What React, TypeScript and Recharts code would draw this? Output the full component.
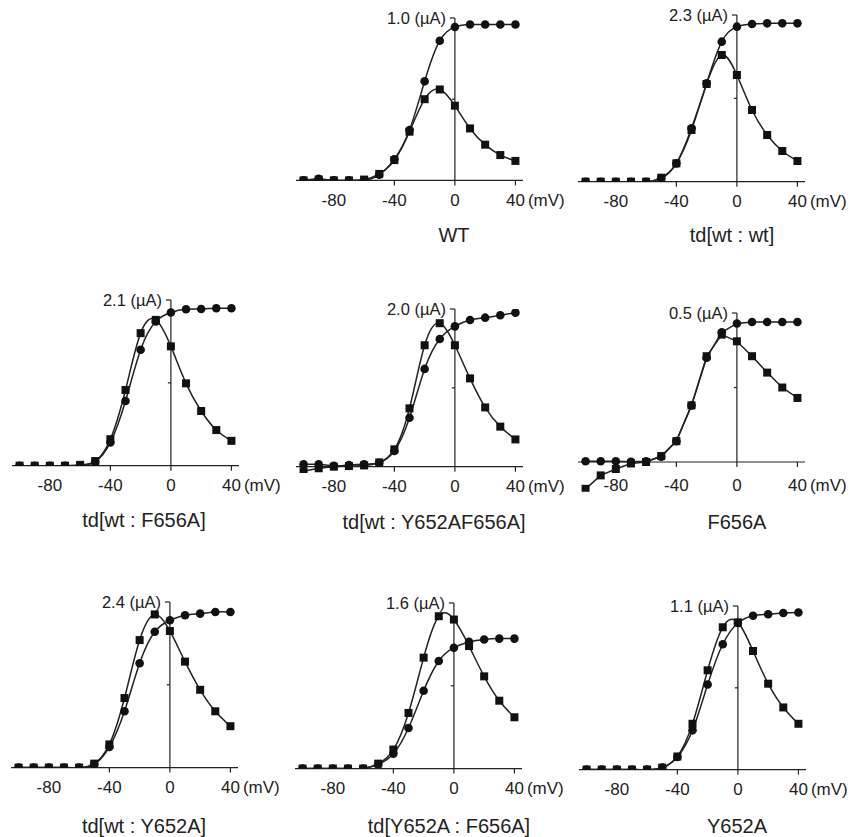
import React from "react";
import { ComposedChart, Line, ReferenceLine, XAxis, YAxis } from "recharts";

// membrane potential steps (mV)
const volts = [-100, -90, -80, -70, -60, -50, -40, -30, -20, -10, 0, 10, 20, 30, 40];
const xTicks = [-80, -40, 0, 40];

// relative values, 1.0 = top tick of each panel
const wtCircles = [0, 0.01, 0, 0, 0, 0.035, 0.13, 0.31, 0.61, 0.86, 0.945, 0.96, 0.96, 0.96, 0.96];
const wtSquares = [0, 0.005, 0, 0, 0.005, 0.04, 0.125, 0.3, 0.5, 0.56, 0.46, 0.32, 0.22, 0.156, 0.12];

const tdWtWtCircles = [0, 0, 0, 0, 0, 0.02, 0.11, 0.32, 0.59, 0.84, 0.93, 0.946, 0.95, 0.95, 0.95];
const tdWtWtSquares = [0, 0, 0, 0, 0, 0.024, 0.11, 0.31, 0.586, 0.76, 0.64, 0.43, 0.28, 0.184, 0.124];

const tdWtF656ACircles = [0, 0, 0, 0, 0, 0.024, 0.14, 0.39, 0.7, 0.87, 0.925, 0.944, 0.946, 0.95, 0.95];
const tdWtF656ASquares = [0, 0, 0, 0, 0.005, 0.028, 0.16, 0.457, 0.8, 0.88, 0.72, 0.497, 0.33, 0.215, 0.15];

const tdWtDoubleCircles = [0.015, 0.015, 0.006, 0.01, 0.015, 0.025, 0.1, 0.31, 0.62, 0.81, 0.89, 0.93, 0.945, 0.96, 0.977];
const tdWtDoubleSquares = [-0.03, -0.01, 0, 0.004, 0.008, 0.027, 0.11, 0.37, 0.77, 0.91, 0.77, 0.56, 0.376, 0.254, 0.173];

const f656aCircles = [0.005, 0.005, 0.005, 0.002, 0.005, 0.035, 0.14, 0.38, 0.7, 0.87, 0.93, 0.94, 0.94, 0.94, 0.94];
const f656aSquares = [-0.18, -0.09, -0.047, -0.01, 0, 0.04, 0.14, 0.38, 0.71, 0.855, 0.81, 0.71, 0.6, 0.5, 0.43];

const tdWtY652ACircles = [0, 0, 0, 0, 0, 0.02, 0.125, 0.34, 0.63, 0.82, 0.89, 0.92, 0.93, 0.94, 0.94];
const tdWtY652ASquares = [0, 0, 0, 0, 0, 0.024, 0.14, 0.42, 0.77, 0.925, 0.825, 0.64, 0.47, 0.34, 0.25];

const tdMutCircles = [0, 0, 0, 0, 0, 0.026, 0.09, 0.245, 0.47, 0.65, 0.73, 0.765, 0.78, 0.785, 0.785];
const tdMutSquares = [0, 0, 0, 0, 0, 0.03, 0.115, 0.336, 0.67, 0.92, 0.9, 0.74, 0.557, 0.41, 0.31];

const y652aCircles = [0, 0, 0, 0, 0, 0.012, 0.077, 0.24, 0.52, 0.766, 0.896, 0.94, 0.95, 0.957, 0.96];
const y652aSquares = [0, 0, 0, 0, 0, 0.012, 0.08, 0.28, 0.607, 0.87, 0.9, 0.725, 0.525, 0.38, 0.28];

const panels = [
  { title: "WT", top: "1.0 (\u00b5A)", circles: wtCircles, squares: wtSquares, curve: "natural" },
  { title: "td[wt : wt]", top: "2.3 (\u00b5A)", circles: tdWtWtCircles, squares: tdWtWtSquares, curve: "natural" },
  { title: "td[wt : F656A]", top: "2.1 (\u00b5A)", circles: tdWtF656ACircles, squares: tdWtF656ASquares, curve: "natural" },
  { title: "td[wt : Y652AF656A]", top: "2.0 (\u00b5A)", circles: tdWtDoubleCircles, squares: tdWtDoubleSquares, curve: "natural" },
  { title: "F656A", top: "0.5 (\u00b5A)", circles: f656aCircles, squares: f656aSquares, curve: "linear" },
  { title: "td[wt : Y652A]", top: "2.4 (\u00b5A)", circles: tdWtY652ACircles, squares: tdWtY652ASquares, curve: "natural" },
  { title: "td[Y652A : F656A]", top: "1.6 (\u00b5A)", circles: tdMutCircles, squares: tdMutSquares, curve: "natural" },
  { title: "Y652A", top: "1.1 (\u00b5A)", circles: y652aCircles, squares: y652aSquares, curve: "natural" },
];

// page placement of each panel: x of 0 mV, y of 0 and of 1.0, title centre
const layout = [
  { x0: 454.5, base: 180.7, topY: 18.3, yMin: 0, tx: 454, ty: 235 },
  { x0: 737, base: 181.7, topY: 15, yMin: 0, tx: 732, ty: 235 },
  { x0: 171.3, base: 465.7, topY: 300, yMin: 0, tx: 144, ty: 520 },
  { x0: 454.7, base: 466.7, topY: 309, yMin: -0.04, tx: 434, ty: 522 },
  { x0: 736.7, base: 462.3, topY: 313.3, yMin: -0.2, tx: 737, ty: 522 },
  { x0: 170.3, base: 767.3, topY: 601.7, yMin: 0, tx: 144, ty: 826 },
  { x0: 454.3, base: 768.3, topY: 602.7, yMin: 0, tx: 449, ty: 826 },
  { x0: 738, base: 769.3, topY: 605.7, yMin: 0, tx: 737, ty: 826 },
];

const FONT = "'Liberation Sans', Arial, sans-serif";
const INK = "#222";
const PLOT_W = 227;
const K = PLOT_W / 150;
const ML = 20, MR = 60, MT = 14, MB = 4, XH = 30;

function XTick(props: any) {
  const { x, y, payload, labelY } = props;
  const ty = y - 8 + labelY;
  if (payload.value === 40) {
    return (
      <g>
        <text x={x} y={ty} textAnchor="middle" dominantBaseline="central" fontSize={17} fill={INK} fontFamily={FONT}>40</text>
        <text x={x + 12.5} y={ty} textAnchor="start" dominantBaseline="central" fontSize={17} fill={INK} fontFamily={FONT}>(mV)</text>
      </g>
    );
  }
  return (
    <text x={x} y={ty} textAnchor="middle" dominantBaseline="central" fontSize={17} fill={INK} fontFamily={FONT}>
      {payload.value}
    </text>
  );
}

function Panel({ p, l }: any) {
  const h = l.base - l.topY;
  const plotH = h * (1 - l.yMin);
  const width = PLOT_W + ML + MR;
  const height = MT + plotH + XH + MB;
  const left = l.x0 - 105 * K - ML;
  const top = l.topY - MT;
  const data = volts.map((v, i) => ({ v, c: p.circles[i], s: p.squares[i] }));
  const tickLen = 5 / h;
  // label centre relative to plot bottom
  const labelY = 20 + l.yMin * h + (l.yMin < -0.1 ? 4 : 0);

  return (
    <div style={{ position: "absolute", left, top }}>
      <ComposedChart width={width} height={height} data={data} margin={{ top: MT, right: MR, bottom: MB, left: ML }}>
        <XAxis
          dataKey="v"
          type="number"
          domain={[-105, 45]}
          allowDataOverflow
          ticks={xTicks}
          interval={0}
          axisLine={false}
          tickLine={false}
          height={XH}
          tick={<XTick labelY={labelY} />}
        />
        <YAxis hide type="number" domain={[l.yMin, 1]} allowDataOverflow />
        <ReferenceLine y={0} stroke={INK} strokeWidth={1.2} ifOverflow="visible" />
        {[-40, 0, 40].map((t) => (
          <ReferenceLine
            key={t}
            segment={[{ x: t, y: 0 }, { x: t, y: -tickLen }]}
            stroke={INK}
            strokeWidth={1.2}
            ifOverflow="visible"
          />
        ))}
        <ReferenceLine segment={[{ x: 0, y: 0 }, { x: 0, y: 1 }]} stroke={INK} strokeWidth={1.2} ifOverflow="visible" />
        <ReferenceLine
          segment={[{ x: -3.3, y: 1 }, { x: 0, y: 1 }]}
          stroke={INK}
          strokeWidth={1.2}
          ifOverflow="visible"
          label={{ value: p.top, position: "left", offset: 4, fontSize: 16.5, fill: INK, fontFamily: FONT }}
        />
        <ReferenceLine segment={[{ x: -2, y: 0.5 }, { x: 0, y: 0.5 }]} stroke={INK} strokeWidth={1.2} ifOverflow="visible" />
        <Line
          dataKey="c"
          type={p.curve}
          stroke={INK}
          strokeWidth={1.5}
          isAnimationActive={false}
          dot={(d: any) => <circle key={`c${d.index}`} cx={d.cx} cy={d.cy} r={4.3} fill="#111" />}
        />
        <Line
          dataKey="s"
          type={p.curve}
          stroke={INK}
          strokeWidth={1.5}
          isAnimationActive={false}
          dot={(d: any) => <rect key={`s${d.index}`} x={d.cx - 4} y={d.cy - 4} width={8} height={8} fill="#111" />}
        />
      </ComposedChart>
      <div
        style={{
          position: "absolute",
          left: l.tx - left,
          top: l.ty - top,
          transform: "translate(-50%, -50%)",
          whiteSpace: "nowrap",
          fontFamily: FONT,
          fontSize: 20,
          lineHeight: 1,
          color: INK,
        }}
      >
        {p.title}
      </div>
    </div>
  );
}

export default function App() {
  return (
    <div style={{ position: "absolute", left: 0, top: 0, width: 852, height: 837, background: "#fff", overflow: "hidden" }}>
      {panels.map((p, i) => (
        <Panel key={p.title} p={p} l={layout[i]} />
      ))}
    </div>
  );
}
